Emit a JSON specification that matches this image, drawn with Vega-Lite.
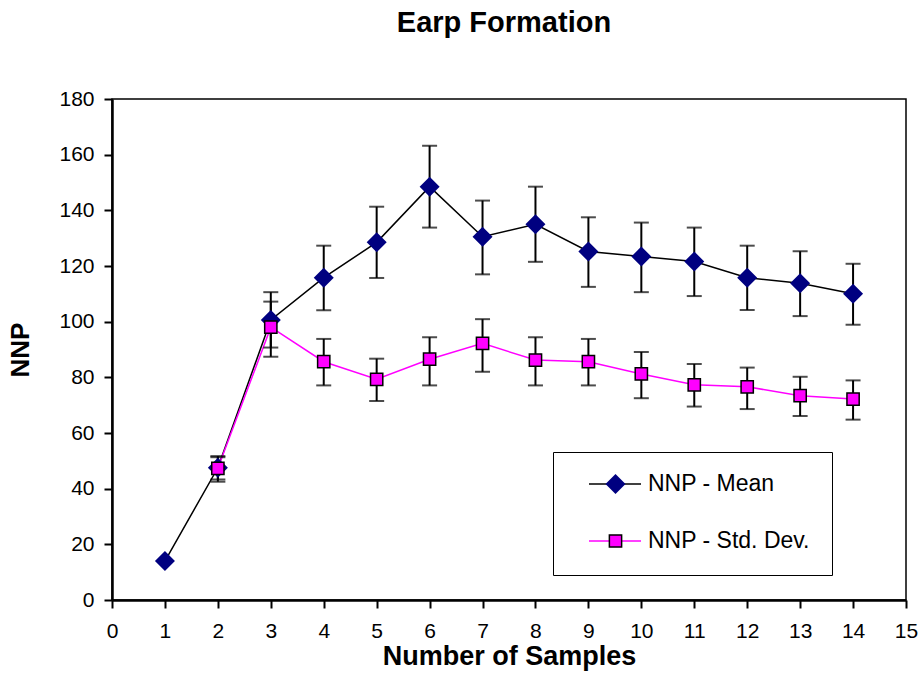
{
  "$schema": "https://vega.github.io/schema/vega-lite/v6.json",
  "autosize": {"type": "none"},
  "width": 794,
  "height": 501,
  "padding": {"left": 112, "top": 99, "right": 18, "bottom": 87},
  "background": "white",
  "title": {
    "text": "Earp Formation",
    "font": "Liberation Sans",
    "fontSize": 29,
    "fontWeight": "bold",
    "color": "black",
    "anchor": "middle",
    "baseline": "alphabetic",
    "offset": 27,
    "dx": -5
  },
  "config": {
    "view": {"stroke": "black", "strokeWidth": 1.5},
    "axis": {
      "grid": false,
      "domainColor": "black",
      "domainWidth": 2.5,
      "tickColor": "black",
      "tickWidth": 2,
      "tickSize": 8,
      "labelFont": "Liberation Sans",
      "labelFontSize": 21,
      "labelColor": "black",
      "titleFont": "Liberation Sans",
      "titleFontWeight": "bold",
      "titleColor": "black"
    }
  },
  "data": {
    "values": [
      {"n": 1, "series": "NNP - Mean", "value": 14, "lo": null, "hi": null},
      {"n": 2, "series": "NNP - Mean", "value": 47.5, "lo": 42.5, "hi": 51.7},
      {"n": 3, "series": "NNP - Mean", "value": 100.6, "lo": 87.4, "hi": 110.6},
      {"n": 4, "series": "NNP - Mean", "value": 115.8, "lo": 104.1, "hi": 127.3},
      {"n": 5, "series": "NNP - Mean", "value": 128.5, "lo": 115.7, "hi": 141.3},
      {"n": 6, "series": "NNP - Mean", "value": 148.5, "lo": 133.8, "hi": 163.2},
      {"n": 7, "series": "NNP - Mean", "value": 130.5, "lo": 117, "hi": 143.5},
      {"n": 8, "series": "NNP - Mean", "value": 135, "lo": 121.5, "hi": 148.5},
      {"n": 9, "series": "NNP - Mean", "value": 125.2, "lo": 112.5, "hi": 137.5},
      {"n": 10, "series": "NNP - Mean", "value": 123.4, "lo": 110.6, "hi": 135.6},
      {"n": 11, "series": "NNP - Mean", "value": 121.6, "lo": 109.2, "hi": 133.8},
      {"n": 12, "series": "NNP - Mean", "value": 115.8, "lo": 104.2, "hi": 127.3},
      {"n": 13, "series": "NNP - Mean", "value": 113.8, "lo": 102, "hi": 125.3},
      {"n": 14, "series": "NNP - Mean", "value": 110, "lo": 98.9, "hi": 120.8},
      {"n": 2, "series": "NNP - Std. Dev.", "value": 47.3, "lo": 43.3, "hi": 51.3},
      {"n": 3, "series": "NNP - Std. Dev.", "value": 98, "lo": 90.7, "hi": 107.2},
      {"n": 4, "series": "NNP - Std. Dev.", "value": 85.6, "lo": 77.1, "hi": 93.8},
      {"n": 5, "series": "NNP - Std. Dev.", "value": 79.3, "lo": 71.5, "hi": 86.7},
      {"n": 6, "series": "NNP - Std. Dev.", "value": 86.5, "lo": 77.1, "hi": 94.4},
      {"n": 7, "series": "NNP - Std. Dev.", "value": 92.2, "lo": 82, "hi": 100.9},
      {"n": 8, "series": "NNP - Std. Dev.", "value": 86.2, "lo": 77.1, "hi": 94.4},
      {"n": 9, "series": "NNP - Std. Dev.", "value": 85.6, "lo": 77.1, "hi": 93.8},
      {"n": 10, "series": "NNP - Std. Dev.", "value": 81.2, "lo": 72.5, "hi": 89.1},
      {"n": 11, "series": "NNP - Std. Dev.", "value": 77.3, "lo": 69.5, "hi": 84.8},
      {"n": 12, "series": "NNP - Std. Dev.", "value": 76.6, "lo": 68.6, "hi": 83.5},
      {"n": 13, "series": "NNP - Std. Dev.", "value": 73.4, "lo": 66.1, "hi": 80.2},
      {"n": 14, "series": "NNP - Std. Dev.", "value": 72.2, "lo": 64.8, "hi": 78.9}
    ]
  },
  "encoding": {
    "x": {
      "field": "n",
      "type": "quantitative",
      "scale": {"domain": [0, 15], "nice": false, "zero": false},
      "axis": {
        "values": [0, 1, 2, 3, 4, 5, 6, 7, 8, 9, 10, 11, 12, 13, 14, 15],
        "title": "Number of Samples",
        "titleFontSize": 27,
        "labelPadding": 12,
        "titlePadding": 2,
        "labelFlush": false
      }
    }
  },
  "layer": [
    {
      "mark": {"type": "line", "strokeWidth": 1.5},
      "encoding": {
        "y": {
          "field": "value",
          "type": "quantitative",
          "scale": {"domain": [0, 180], "nice": false},
          "axis": {
            "values": [0, 20, 40, 60, 80, 100, 120, 140, 160, 180],
            "title": "NNP",
            "titleFontSize": 26,
            "labelPadding": 10,
            "titlePadding": 25,
            "labelFlush": false
          }
        },
        "stroke": {
          "field": "series",
          "type": "nominal",
          "scale": {"domain": ["NNP - Mean", "NNP - Std. Dev."], "range": ["#000000", "#FF00FF"]},
          "legend": {
            "orient": "none",
            "legendX": 441,
            "legendY": 353,
            "title": null,
            "padding": 22,
            "symbolType": "stroke",
            "symbolSize": 2704,
            "symbolStrokeWidth": 1.5,
            "symbolOffset": 13,
            "clipHeight": 20,
            "rowPadding": 34,
            "labelFont": "Liberation Sans",
            "labelFontSize": 23,
            "labelColor": "black",
            "labelOffset": 6,
            "labelLimit": 400,
            "strokeColor": "black",
            "fillColor": "transparent"
          }
        }
      }
    },
    {
      "mark": {"type": "rule", "color": "black", "strokeWidth": 2},
      "encoding": {
        "y": {"field": "lo", "type": "quantitative"},
        "y2": {"field": "hi"}
      }
    },
    {
      "mark": {"type": "tick", "orient": "horizontal", "color": "black", "size": 15, "thickness": 2},
      "encoding": {"y": {"field": "lo", "type": "quantitative"}}
    },
    {
      "mark": {"type": "tick", "orient": "horizontal", "color": "black", "size": 15, "thickness": 2},
      "encoding": {"y": {"field": "hi", "type": "quantitative"}}
    },
    {
      "mark": {"type": "point", "filled": true, "stroke": "black", "opacity": 1},
      "encoding": {
        "y": {"field": "value", "type": "quantitative"},
        "fill": {
          "field": "series",
          "type": "nominal",
          "scale": {"range": ["#000080", "#FF00FF"]},
          "legend": {
            "orient": "none",
            "legendX": 441,
            "legendY": 353,
            "title": null,
            "padding": 22,
            "symbolOffset": 29,
            "clipHeight": 20,
            "rowPadding": 34,
            "labelFontSize": 23,
            "labelExpr": "''",
            "labelOffset": 6,
            "strokeColor": "transparent",
            "fillColor": "transparent",
            "encode": {"symbols": {"update": {"size": {"signal": "datum.value === 'NNP - Mean' ? 220 : 130"}}}}
          }
        },
        "shape": {
          "field": "series",
          "type": "nominal",
          "scale": {"range": ["diamond", "square"]}
        },
        "size": {
          "field": "series",
          "type": "nominal",
          "scale": {"range": [400, 150]}
        },
        "strokeWidth": {
          "field": "series",
          "type": "nominal",
          "scale": {"range": [0, 1.5]}
        }
      }
    }
  ]
}
